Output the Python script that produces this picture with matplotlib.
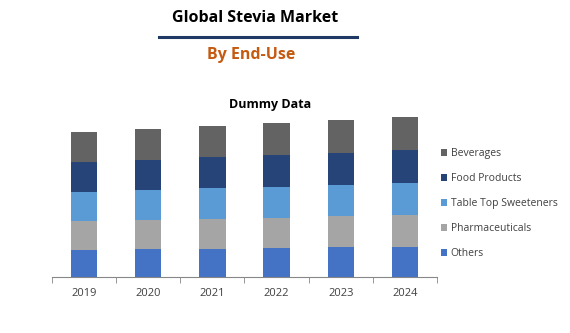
import matplotlib as mpl
mpl.use('Agg')
import matplotlib.pyplot as plt
import numpy as np

plt.rcParams['font.family'] = ['Open Sans', 'DejaVu Sans']

years = ['2019', '2020', '2021', '2022', '2023', '2024']
segments = ['Others', 'Pharmaceuticals', 'Table Top Sweeteners', 'Food Products', 'Beverages']
others = [27, 28, 28, 29, 30, 30]
pharmaceuticals = [29, 29, 30, 30, 31, 32]
table_top = [29, 30, 31, 31, 31, 32]
food_products = [30, 30, 31, 32, 32, 33]
beverages = [30, 31, 31, 32, 33, 33]
colors = ['#4472C4', '#A5A5A5', '#5B9BD5', '#264478', '#636363']

fig = plt.figure(figsize=(5.7, 3.33), dpi=100)
ax = fig.add_axes([52/570, 1-277/333, 385/570, 165/333])

x = np.arange(len(years))
bottom = np.zeros(len(years))
handles = []
for vals, name, c in zip([others, pharmaceuticals, table_top, food_products, beverages], segments, colors):
    b = ax.bar(x, vals, width=0.41, bottom=bottom, color=c, label=name)
    handles.append(b)
    bottom += np.array(vals)

ax.set_xlim(-0.5, len(years)-0.5)
ax.set_ylim(0, 165)
for s in ['top', 'right', 'left']:
    ax.spines[s].set_visible(False)
ax.spines['bottom'].set_color('#878787')
ax.set_yticks([])
ax.set_xticks(x)
ax.set_xticklabels(years, fontsize=8, color='#404040')
ax.tick_params(axis='x', length=0, pad=8)
ax.set_xticks(np.arange(-0.5, len(years)), minor=True)
ax.tick_params(axis='x', which='minor', length=4, color='#878787')

fig.text(0.448, 1-18/333, 'Global Stevia Market', ha='center', va='center', fontsize=11.5, fontweight='bold', color='black')
fig.add_artist(plt.Line2D([159/570, 357/570], [1-37/333, 1-37/333], color='#1F3864', lw=2.2))
fig.text(0.44, 1-55/333, 'By End-Use', ha='center', va='center', fontsize=11.5, fontweight='bold', color='#C55A11')
fig.text(270/570, 1-104/333, 'Dummy Data', ha='center', va='center', fontsize=9, fontweight='bold', color='black')

fig.legend(handles[::-1], segments[::-1], loc='upper left', bbox_to_anchor=(436/570, 1-143/333),
           frameon=False, fontsize=7.5, handlelength=0.6, handleheight=0.6, handletextpad=0.3,
           labelspacing=1.35, borderpad=0, labelcolor='#404040')

fig.savefig('out.png', dpi=100)
